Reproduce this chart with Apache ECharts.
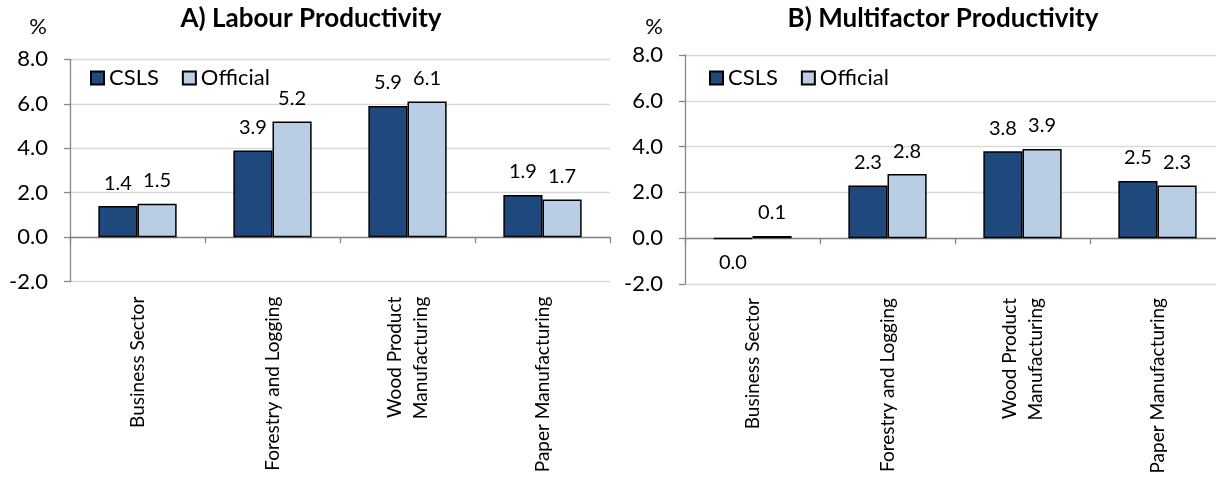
<!DOCTYPE html>
<html>
<head>
<meta charset="utf-8">
<script src="https://cdn.jsdelivr.net/npm/echarts@6/dist/echarts.min.js"></script>
<style>
  html, body { margin: 0; padding: 0; background: #fff; }
  #chart { width: 1216px; height: 481px; }
</style>
</head>
<body>
<div id="chart"></div>
<script>
// Sector categories shared by both panels
const categories = ['Business Sector', 'Forestry and Logging', 'Wood Product\nManufacturing', 'Paper Manufacturing'];
const seriesNames = ['CSLS', 'Official'];

// A) Labour productivity growth, %
const labourCSLS = [1.4, 3.9, 5.9, 1.9];
const labourOfficial = [1.5, 5.2, 6.1, 1.7];

// B) Multifactor productivity growth, %
const mfpCSLS = [-0.03, 2.3, 3.8, 2.5];
const mfpOfficial = [0.1, 2.8, 3.9, 2.3];

const yTicks = { min: -2, max: 8, interval: 2 };

const FONT = 'Lato';
const DARK = '#1F497D';
const LIGHT = '#B9CDE5';
const AXIS_GRAY = '#868686';

const fmt = v => (Math.round(v * 10) / 10 + 0).toFixed(1);

// negative bars carry their label underneath
function barData(values) {
  return values.map(v => ({
    value: v,
    label: { position: v < 0 ? 'bottom' : 'top' }
  }));
}

function barSeries(name, values, color, idx) {
  return {
    name: name,
    type: 'bar',
    xAxisIndex: idx,
    yAxisIndex: idx,
    barGap: '0%',
    barCategoryGap: '42%',
    data: barData(values),
    itemStyle: { color: color, borderColor: '#000', borderWidth: 1.5 },
    label: {
      show: true,
      distance: 13,
      fontFamily: FONT,
      fontSize: 20,
      color: '#000',
      formatter: p => fmt(p.value)
    }
  };
}

// category labels sit below the plot area, the axis line itself stays on zero
function xAxisCfg(idx, margin) {
  return {
    type: 'category',
    gridIndex: idx,
    data: categories,
    axisLine: { onZero: true, lineStyle: { color: AXIS_GRAY, width: 1.3 } },
    axisTick: { show: true, alignWithLabel: false, length: 6, lineStyle: { color: AXIS_GRAY, width: 1.3 } },
    axisLabel: {
      rotate: 90,
      margin: margin,
      fontFamily: FONT,
      fontSize: 19,
      color: '#000',
      lineHeight: 26,
      interval: 0
    }
  };
}

function yAxisCfg(idx) {
  return {
    type: 'value',
    gridIndex: idx,
    min: yTicks.min,
    max: yTicks.max,
    interval: yTicks.interval,
    axisLine: { show: true, lineStyle: { color: AXIS_GRAY, width: 1.3 } },
    axisTick: { show: true, length: 6, lineStyle: { color: AXIS_GRAY, width: 1.3 } },
    splitLine: { show: true, lineStyle: { color: '#D9D9D9', width: 1.3 } },
    axisLabel: {
      margin: 22,
      fontFamily: FONT,
      fontSize: 22,
      color: '#000',
      formatter: v => v.toFixed(1)
    }
  };
}

function legendCfg(left, top, seriesIdx) {
  return {
    data: seriesNames,
    seriesIndex: seriesIdx,
    left: left,
    top: top,
    itemWidth: 13,
    itemHeight: 13,
    itemGap: 23,
    icon: 'rect',
    textStyle: { fontFamily: FONT, fontSize: 22, color: '#000' }
  };
}

const titleStyle = { fontFamily: FONT, fontSize: 26, fontWeight: 'bold', color: '#000' };
const unitStyle = { fontFamily: FONT, fontSize: 22, fontWeight: 'normal', color: '#000' };

const chart = echarts.init(document.getElementById('chart'));
chart.setOption({
  animation: false,
  backgroundColor: '#fff',
  title: [
    { text: 'A) Labour Productivity', left: 306, top: 1, textAlign: 'center', textStyle: titleStyle },
    { text: 'B) Multifactor Productivity', left: 938, top: 1, textAlign: 'center', textStyle: titleStyle },
    { text: '%', left: 33, top: 11, textAlign: 'center', textStyle: unitStyle },
    { text: '%', left: 649, top: 11, textAlign: 'center', textStyle: unitStyle }
  ],
  legend: [
    legendCfg(85, 62, [0, 1]),
    legendCfg(704, 62, [2, 3])
  ],
  grid: [
    { left: 70, top: 59.3, width: 540, height: 222.4, outerBoundsMode: 'none' },
    { left: 685, top: 55, width: 540, height: 229, outerBoundsMode: 'none' }
  ],
  xAxis: [xAxisCfg(0, 15), xAxisCfg(1, 14)],
  yAxis: [yAxisCfg(0), yAxisCfg(1)],
  series: [
    barSeries('CSLS', labourCSLS, DARK, 0),
    barSeries('Official', labourOfficial, LIGHT, 0),
    barSeries('CSLS', mfpCSLS, DARK, 1),
    barSeries('Official', mfpOfficial, LIGHT, 1)
  ]
});
</script>
</body>
</html>
